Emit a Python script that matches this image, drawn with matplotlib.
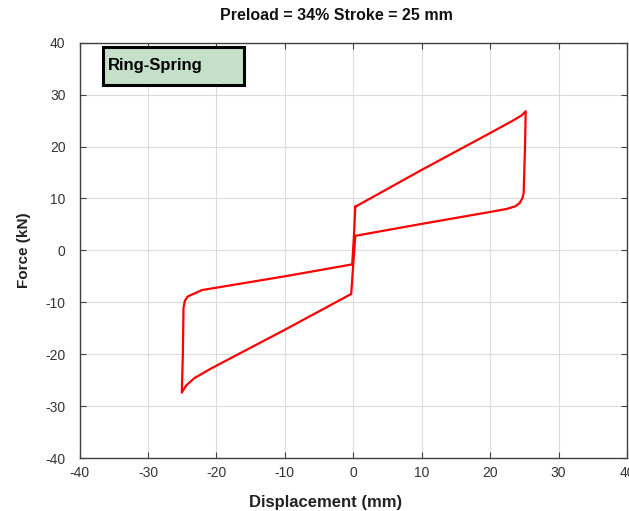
import matplotlib
matplotlib.use("Agg")
import matplotlib.pyplot as plt
from matplotlib.patches import Rectangle

plt.rcParams['font.family'] = ['Liberation Sans', 'DejaVu Sans']
plt.rcParams['axes.unicode_minus'] = False

# Hysteresis loop (displacement mm, force kN)
disp = [0.3, 10, 20, 23.2, 24.6, 25.2,
        25.1, 24.9, 24.7, 24.3, 23.7, 22.5, 20, 10, 0.3,
        0.0, -0.3,
        -10, -20.7, -23.2, -24.4, -25.05,
        -24.9, -24.8, -24.6, -24.2, -23.2, -22.1, -10, -0.15,
        0.1, 0.3]
force = [8.4, 15.5, 22.6, 24.9, 26.0, 26.8,
         20, 11, 10.0, 9.1, 8.5, 8.0, 7.4, 5.1, 2.8,
         -2.7, -8.4,
         -15.3, -22.7, -24.6, -26.0, -27.4,
         -20, -11, -9.7, -8.9, -8.3, -7.65, -5.0, -2.7,
         2.8, 8.4]

ticks = [-40, -30, -20, -10, 0, 10, 20, 30, 40]
title = "Preload = 34% Stroke = 25 mm"
xlabel = "Displacement (mm)"
ylabel = "Force (kN)"
label = "Ring-Spring"

fig = plt.figure(figsize=(6.29, 5.11), dpi=100)
ax = fig.add_axes([0.1264, 0.1037, 0.8704, 0.8127])
ax.plot(disp, force, color='#ff0000', lw=1.6, solid_joinstyle='round')
ax.set_xlim(-40, 40)
ax.set_ylim(-40, 40)
ax.set_xticks(ticks)
ax.set_yticks(ticks)
ax.grid(True, color='#dcdcdc', lw=0.8)
ax.set_axisbelow(True)
ax.tick_params(direction='in', top=True, right=True, length=4, width=0.8,
               color='#404040', labelcolor='#333333', labelsize=10)
ax.tick_params(axis='x', pad=6)
ax.tick_params(axis='y', pad=10)
for s in ax.spines.values():
    s.set_color('#404040')
    s.set_linewidth(1.0)
fig.text(336 / 629, 1 - 16 / 511, title, fontsize=11.5, fontweight='bold',
         ha='center', va='center', color='#111111')
ax.set_xlabel(xlabel, fontsize=12, fontweight='bold', color='#222222', va='center')
ax.xaxis.set_label_coords(0.45, -0.106)
ax.set_ylabel(ylabel, fontsize=11, fontweight='bold', labelpad=10, color='#222222')
ax.add_patch(Rectangle((0.043, 0.898), 0.257, 0.092, transform=ax.transAxes,
                       fc='#c4e0c8', ec='black', lw=2.2, zorder=5))
ax.text(0.0525, 0.944, label, transform=ax.transAxes, fontsize=12, fontweight='bold',
        va='center', ha='left', zorder=6)
fig.savefig("out.png", dpi=100)
